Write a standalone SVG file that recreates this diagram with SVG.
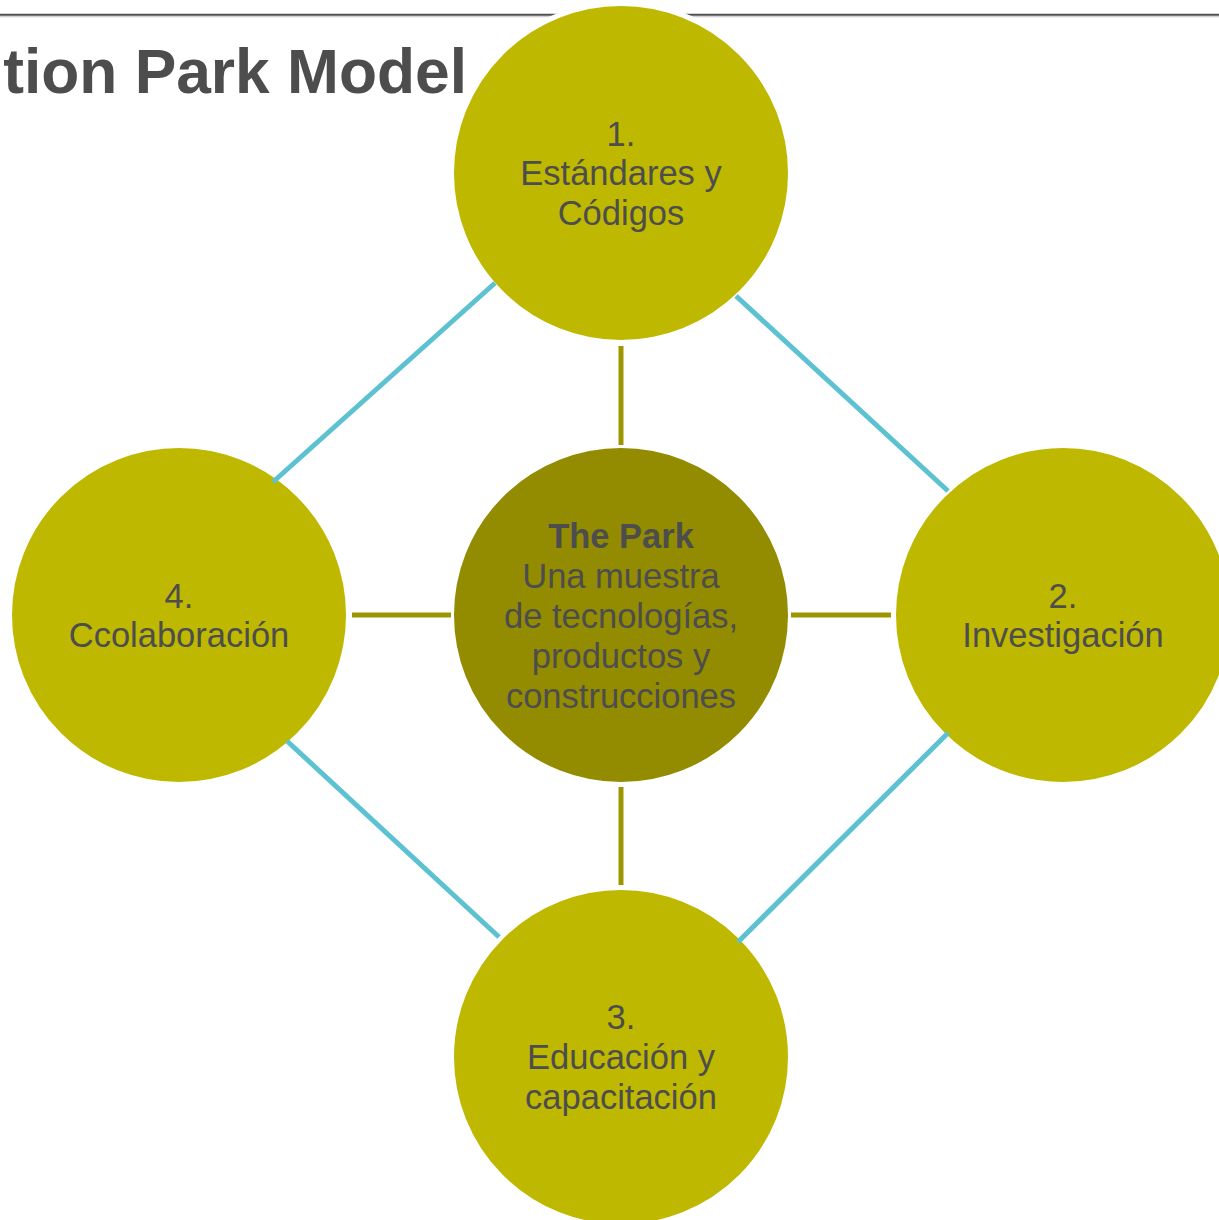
<svg xmlns="http://www.w3.org/2000/svg" width="1219" height="1220" viewBox="0 0 1219 1220">
<style>
.outer{fill:#BFB800;stroke:#FFFFFF;stroke-width:5}
.center{fill:#938C00;stroke:#FFFFFF;stroke-width:5}
.t{font-family:"Liberation Sans",Arial,sans-serif;font-size:34.5px;fill:#4D4D4D;text-anchor:middle}
.b{font-weight:bold}
.olive{stroke:#9E9600;stroke-width:5;fill:none}
.blue{stroke:#5CC1D1;stroke-width:5;fill:none}
</style>
<rect width="1219" height="1220" fill="#FFFFFF"/>
<line x1="0" y1="16.5" x2="1219" y2="16.5" stroke="#D0D0D0" stroke-width="1.5"/>
<line x1="0" y1="14.8" x2="1219" y2="14.8" stroke="#505050" stroke-width="2"/>
<text x="467" y="93" font-family="Liberation Sans,Arial,sans-serif" font-size="62.3" font-weight="bold" fill="#4D4D4D" text-anchor="end">tion Park Model</text>
<g id="node-top">
<circle class="outer" cx="621" cy="173" r="169.5"/>
<text class="t" x="621" y="146">1.</text>
<text class="t" x="621" y="185">Estándares y</text>
<text class="t" x="621" y="225">Códigos</text>
</g>
<g id="node-right">
<circle class="outer" cx="1063" cy="615" r="169.5"/>
<text class="t" x="1063" y="608">2.</text>
<text class="t" x="1063" y="647">Investigación</text>
</g>
<g id="node-bottom">
<circle class="outer" cx="621" cy="1057" r="169.5"/>
<text class="t" x="621" y="1029">3.</text>
<text class="t" x="621" y="1069">Educación y</text>
<text class="t" x="621" y="1109">capacitación</text>
</g>
<g id="node-left">
<circle class="outer" cx="179" cy="615" r="169.5"/>
<text class="t" x="179" y="608">4.</text>
<text class="t" x="179" y="647">Ccolaboración</text>
</g>
<g id="node-center">
<circle class="center" cx="621" cy="615" r="169.5"/>
<text class="t b" x="621" y="548">The Park</text>
<text class="t" x="621" y="588">Una muestra</text>
<text class="t" x="621" y="628">de tecnologías,</text>
<text class="t" x="621" y="668">productos y</text>
<text class="t" x="621" y="708">construcciones</text>
</g>
<g id="connectors">
<line class="olive" x1="621" y1="346" x2="621" y2="445"/>
<line class="olive" x1="621" y1="787" x2="621" y2="885"/>
<line class="olive" x1="352" y1="615" x2="451" y2="615"/>
<line class="olive" x1="791" y1="615" x2="891" y2="615"/>
<line class="blue" x1="273" y1="482" x2="495" y2="283"/>
<line class="blue" x1="736" y1="296" x2="948" y2="491"/>
<line class="blue" x1="948" y1="733" x2="738" y2="942"/>
<line class="blue" x1="287" y1="741" x2="499" y2="937"/>
</g>
</svg>
